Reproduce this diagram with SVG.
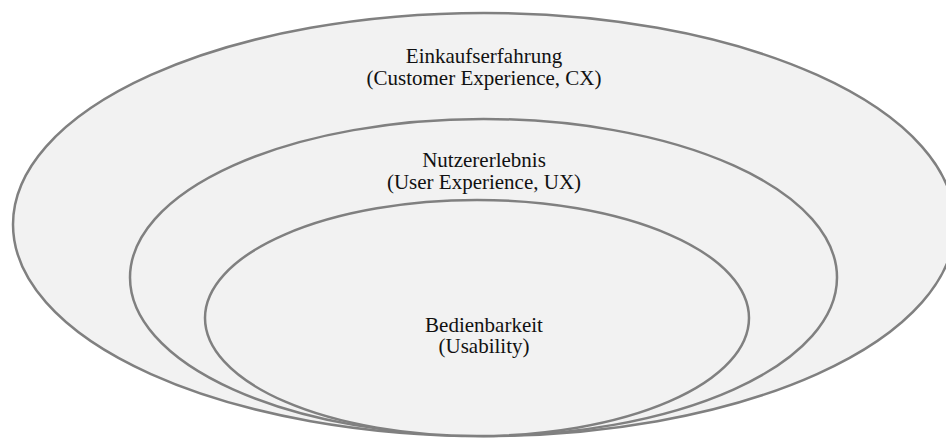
<svg xmlns="http://www.w3.org/2000/svg" width="946" height="438" viewBox="0 0 946 438">
  <style>
    .ring { fill: #f2f2f2; stroke: #808080; stroke-width: 2.5; }
    .label { font-family: "Liberation Serif", "DejaVu Serif", "Times New Roman", serif; font-size: 21px; fill: #111111; text-anchor: middle; }
  </style>
  <rect width="946" height="438" fill="#ffffff"/>

  <!-- Outer ring: customer experience -->
  <g id="cx">
    <ellipse class="ring" cx="484" cy="224.5" rx="471" ry="211.5"/>
    <text class="label" font-family="Liberation Serif, serif" x="484" y="63">Einkaufserfahrung</text>
    <text class="label" font-family="Liberation Serif, serif" x="484" y="84.5">(Customer Experience, CX)</text>
  </g>

  <!-- Middle ring: user experience -->
  <g id="ux">
    <ellipse class="ring" cx="483.5" cy="277.5" rx="353.5" ry="158.5"/>
    <text class="label" font-family="Liberation Serif, serif" x="484" y="166.5">Nutzererlebnis</text>
    <text class="label" font-family="Liberation Serif, serif" x="484" y="188.5">(User Experience, UX)</text>
  </g>

  <!-- Inner ring: usability -->
  <g id="usability">
    <ellipse class="ring" cx="477" cy="318" rx="272" ry="118"/>
    <text class="label" font-family="Liberation Serif, serif" x="484" y="331.5">Bedienbarkeit</text>
    <text class="label" font-family="Liberation Serif, serif" x="484" y="353">(Usability)</text>
  </g>

  <g id="connectors"/>
</svg>
